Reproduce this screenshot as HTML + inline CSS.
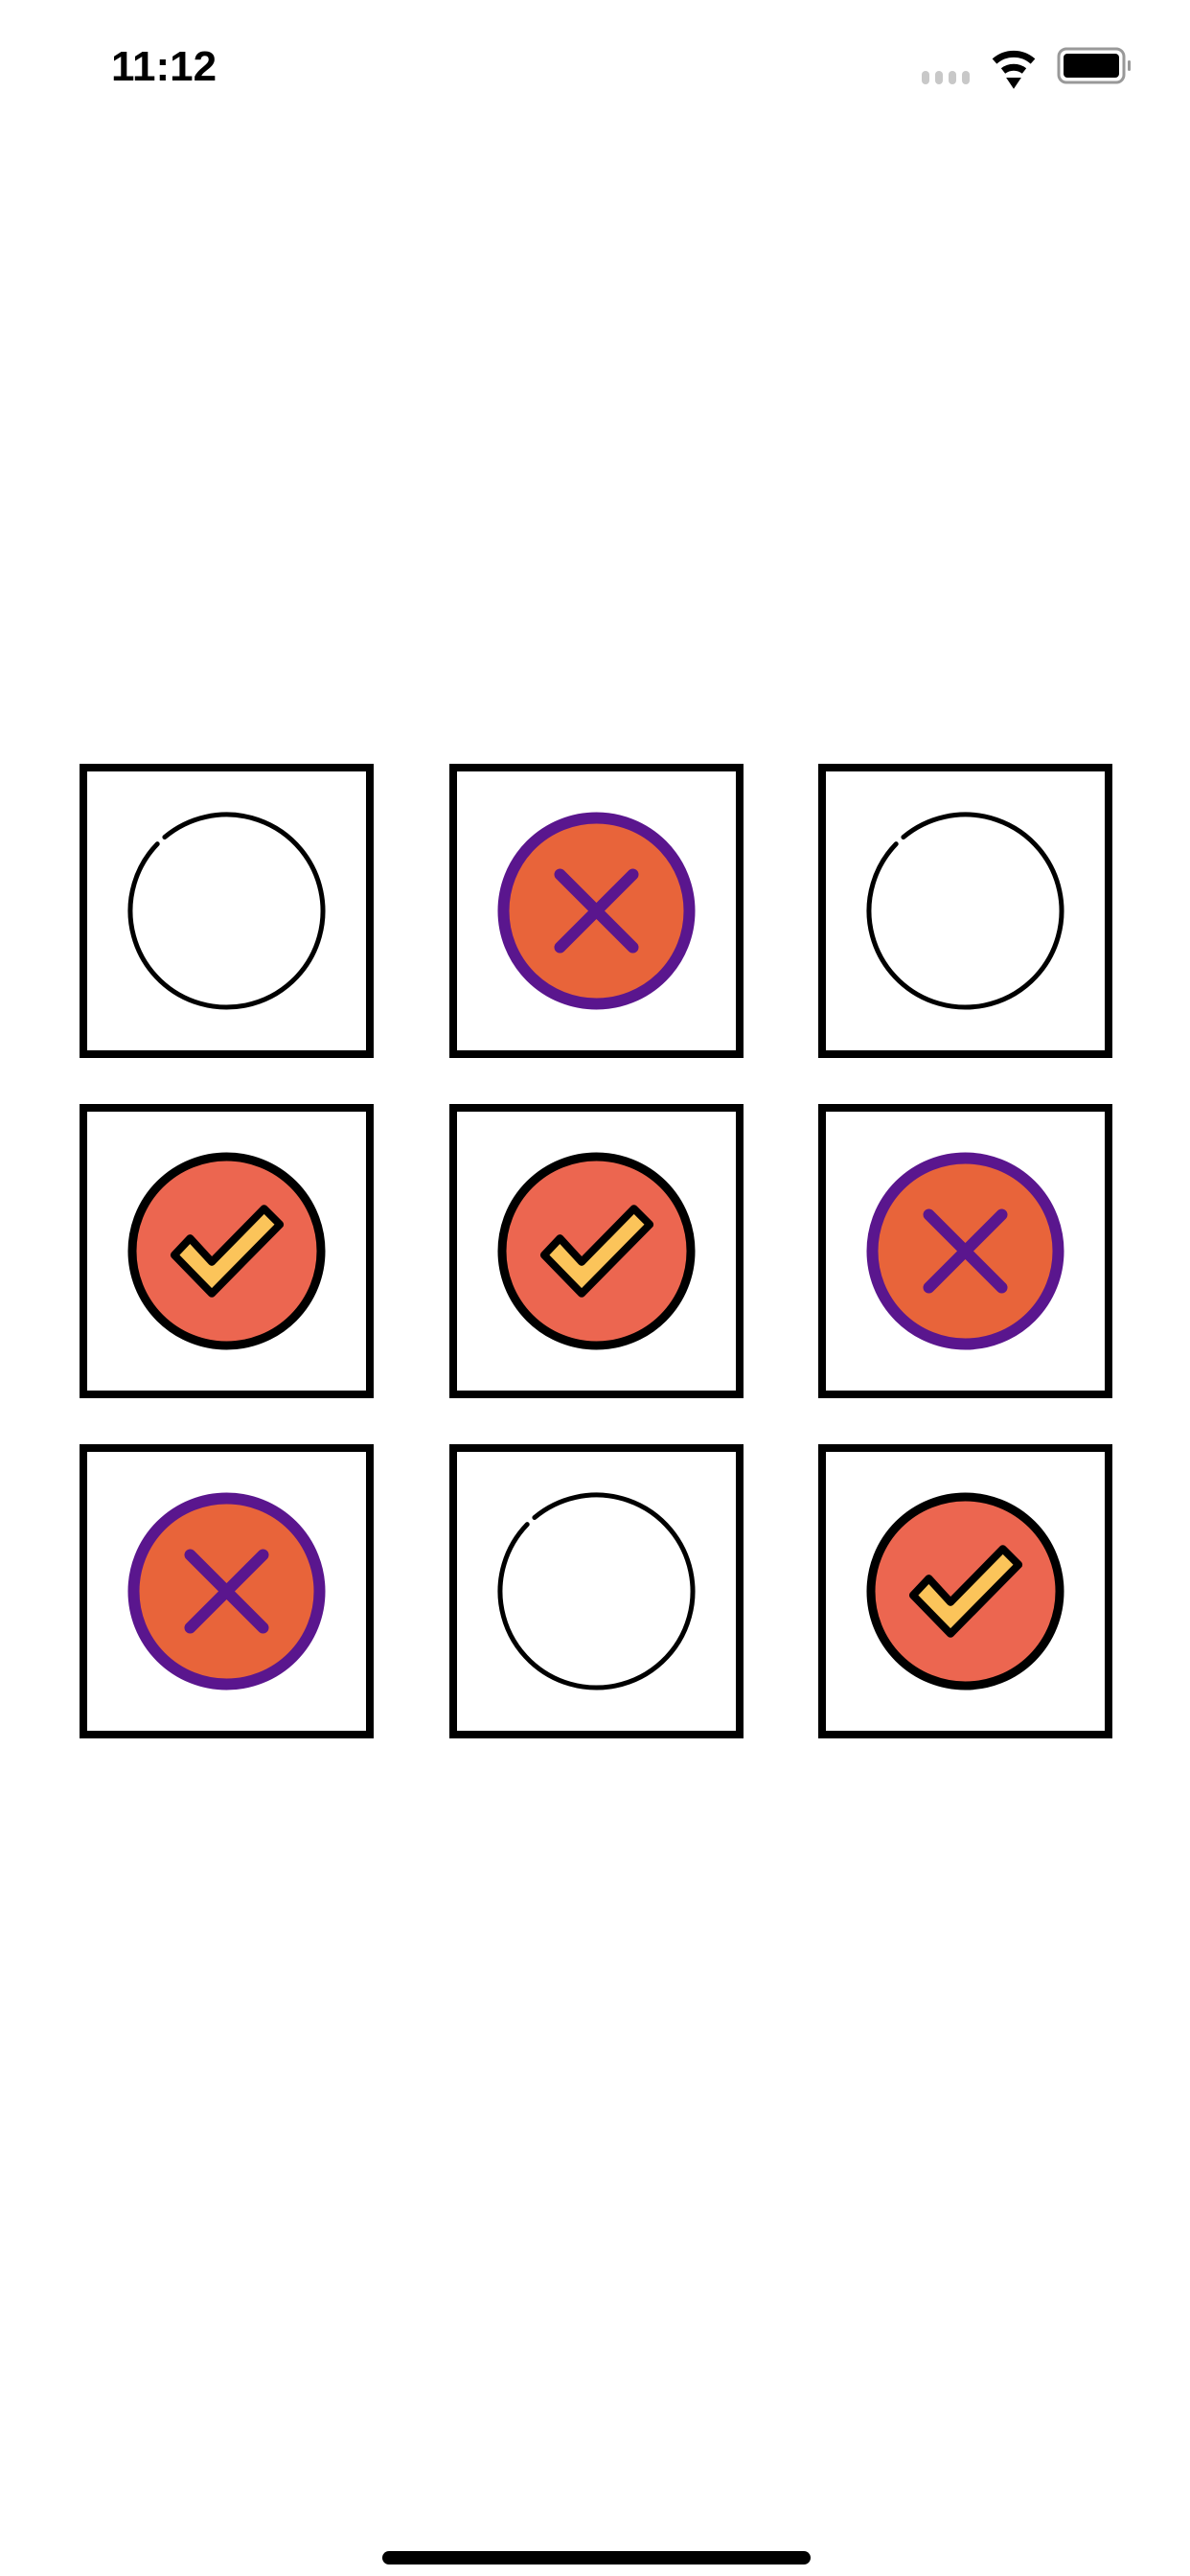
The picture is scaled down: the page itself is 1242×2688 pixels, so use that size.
<!DOCTYPE html>
<html><head><meta charset="utf-8"><style>
html,body{margin:0;padding:0;background:#fff;}
svg{display:block;}
</style></head><body>
<svg width="1242" height="2688" viewBox="0 0 1242 2688" xmlns="http://www.w3.org/2000/svg">
<g>
<text x="116" y="84" font-family="Liberation Sans, sans-serif" font-size="44" font-weight="bold" fill="#000">11:12</text>
<g fill="#c8c8c8">
<rect x="962" y="74" width="8" height="14" rx="4"/><rect x="976" y="74" width="8" height="14" rx="4"/><rect x="990" y="74" width="8" height="14" rx="4"/><rect x="1004" y="74" width="8" height="14" rx="4"/>
</g>
<g fill="none" stroke="#000" stroke-width="7">
<path d="M1038 64 A30 30 0 0 1 1078 64"/><path d="M1047 74 A18 18 0 0 1 1069 74"/>
<path d="M1052 82 L1064 82 L1058 91 Z" fill="#000" stroke-width="2"/>
</g>
<g>
<rect x="1105" y="51" width="68" height="35" rx="8" fill="none" stroke="#999" stroke-width="3"/>
<rect x="1110" y="56" width="58" height="25" rx="4" fill="#000"/>
<rect x="1177" y="63" width="3" height="11" rx="1.5" fill="#999"/>
</g>
</g>
<g id="grid"></g>
<rect x="399" y="2662" width="447" height="14" rx="7" fill="#000"/>
</svg>
<script>
const cells = ['empty','x','empty','check','check','x','x','empty','check'];
const colX = [83, 469, 854];
const rowY = [797, 1152, 1507];
const NS = 'http://www.w3.org/2000/svg';
const grid = document.getElementById('grid');
function mk(tag, attrs, parent){const e=document.createElementNS(NS,tag);for(const k in attrs)e.setAttribute(k,attrs[k]);parent.appendChild(e);return e;}
cells.forEach((s,i)=>{
  const x=colX[i%3], y=rowY[Math.floor(i/3)], w=307, h=307;
  const g=mk('g',{},grid);
  
  
  mk('rect',{x:x+4,y:y+4,width:w-8,height:h-8,fill:'#fff',stroke:'#000','stroke-width':8},g);
  const cx=x+w/2, cy=y+h/2, r=103;
  if(s==='empty'){
    const rr=r-2.5;
    const a1=(227+3)*Math.PI/180, a2=(227-3+360)*Math.PI/180;
    const p=mk('path',{d:`M${cx+rr*Math.cos(a1)} ${cy+rr*Math.sin(a1)} A${rr} ${rr} 0 1 1 ${cx+rr*Math.cos(a2)} ${cy+rr*Math.sin(a2)}`,fill:'none',stroke:'#000','stroke-width':5,'stroke-linecap':'round'},g);
    
    
  } else if(s==='x'){
    const c=mk('circle',{cx,cy,r:r-6,fill:'#e8643a',stroke:'#5a168e','stroke-width':12},g);
    
    
    const d=38;
    mk('path',{d:`M${cx-d} ${cy-d} L${cx+d} ${cy+d} M${cx+d} ${cy-d} L${cx-d} ${cy+d}`,stroke:'#5a168e','stroke-width':12,'stroke-linecap':'round',fill:'none'},g);
  } else {
    const c=mk('circle',{cx,cy,r:r-4.5,fill:'#ec6650',stroke:'#000','stroke-width':9},g);
    
    
    const pts=[[-0.53,0.04],[-0.37,-0.13],[-0.15,0.11],[0.38,-0.43],[0.54,-0.27],[-0.15,0.43]];
    mk('polygon',{points:pts.map(p=>(cx+p[0]*r)+','+(cy+p[1]*r)).join(' '),fill:'#fbc45a',stroke:'#000','stroke-width':8,'stroke-linejoin':'round'},g);
  }
});
</script>
</body></html>
